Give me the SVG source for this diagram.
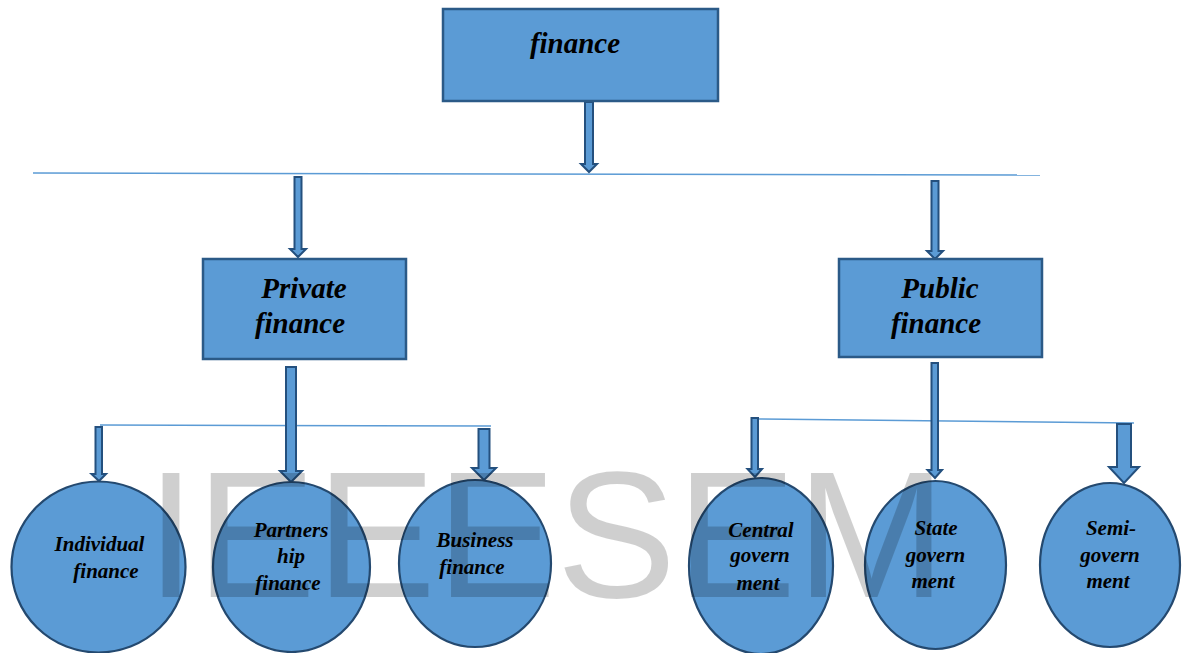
<svg xmlns="http://www.w3.org/2000/svg" width="1182" height="653" viewBox="0 0 1182 653">
<style>
.box{fill:#5b9bd5;stroke:#2b5a87;stroke-width:2.5}
.circ{fill:#5b9bd5;stroke:#24496f;stroke-width:2.2}
.arr{fill:#5b9bd5;stroke:#24507e;stroke-width:2;stroke-linejoin:miter}
.ln{stroke:#5b9bd5;stroke-width:1.5;fill:none}
.t{font-family:"Liberation Serif","Times New Roman",serif;font-weight:bold;font-style:italic;fill:#000;text-anchor:middle}
.big{font-size:29px}
.sm{font-size:21px}
.wm{font-family:"Liberation Sans",Arial,sans-serif;font-size:180px;fill:#000;fill-opacity:0.19}
</style>
<rect width="1182" height="653" fill="#fff"/>
<g id="connectors">
<line class="ln" x1="33" y1="173" x2="1040" y2="175"/>
<line class="ln" x1="100" y1="425" x2="491" y2="426"/>
<line class="ln" x1="756" y1="419" x2="1134" y2="423"/>
<polygon class="arr" points="585,102 593,102 593,164 597,164 589,172 581,164 585,164"/>
<polygon class="arr" points="294.5,177 301.5,177 301.5,249 306,249 298,257 290,249 294.5,249"/>
<polygon class="arr" points="931.5,181 938.5,181 938.5,251 943,251 935,259 927,251 931.5,251"/>
<polygon class="arr" points="286,367 296,367 296,471 302,471 291,482 280,471 286,471"/>
<polygon class="arr" points="95.5,427 102,427 102,474 106,474 99,481 91.5,474 95.5,474"/>
<polygon class="arr" points="478.5,429 489.5,429 489.5,468 496,468 484,480 472,468 478.5,468"/>
<polygon class="arr" points="931.5,363 938,363 938,470 942,470 935,478 927.5,470 931.5,470"/>
<polygon class="arr" points="751.5,418 758,418 758,469 762,469 755,477 747.5,469 751.5,469"/>
<polygon class="arr" points="1117,424 1131,424 1131,467 1139,467 1124,483 1109,467 1117,467"/>
</g>
<g id="finance">
<rect class="box" x="443" y="9" width="275" height="92"/>
<text class="t big" x="575" y="53">finance</text>
</g>
<g id="private">
<rect class="box" x="203" y="259" width="203" height="100"/>
<text class="t big" x="304" y="298">Private</text>
<text class="t big" x="300" y="333">finance</text>
</g>
<g id="public">
<rect class="box" x="839" y="259" width="203" height="98"/>
<text class="t big" x="940" y="298">Public</text>
<text class="t big" x="936" y="333">finance</text>
</g>
<g id="individual">
<ellipse class="circ" cx="98.5" cy="567" rx="87" ry="85.5"/>
<text class="t sm" x="99.5" y="551">Individual</text>
<text class="t sm" x="106" y="578">finance</text>
</g>
<g id="partnership">
<ellipse class="circ" cx="291.5" cy="567" rx="78.5" ry="85"/>
<text class="t sm" x="291" y="537">Partners</text>
<text class="t sm" x="291" y="563">hip</text>
<text class="t sm" x="288" y="590">finance</text>
</g>
<g id="business">
<ellipse class="circ" cx="475" cy="563.5" rx="76" ry="83.5"/>
<text class="t sm" x="475" y="547">Business</text>
<text class="t sm" x="472" y="574">finance</text>
</g>
<g id="central">
<ellipse class="circ" cx="761" cy="566" rx="72" ry="88"/>
<text class="t sm" x="761" y="537">Central</text>
<text class="t sm" x="760" y="562">govern</text>
<text class="t sm" x="758" y="590">ment</text>
</g>
<g id="state">
<ellipse class="circ" cx="935.5" cy="565" rx="70.5" ry="84"/>
<text class="t sm" x="936" y="535">State</text>
<text class="t sm" x="935.5" y="562">govern</text>
<text class="t sm" x="933" y="588">ment</text>
</g>
<g id="semi">
<ellipse class="circ" cx="1110" cy="565" rx="70" ry="82"/>
<text class="t sm" x="1111" y="535">Semi-</text>
<text class="t sm" x="1110" y="562">govern</text>
<text class="t sm" x="1108" y="588">ment</text>
</g>
<text class="wm" x="146" y="597">IEEESEM</text>
</svg>
